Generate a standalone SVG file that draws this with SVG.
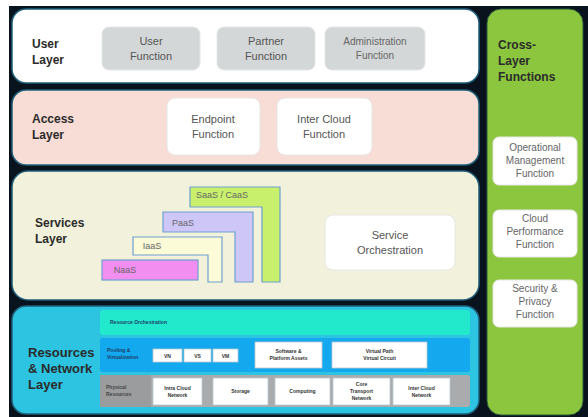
<svg xmlns="http://www.w3.org/2000/svg" width="588" height="417" viewBox="0 0 588 417">
<style>
.lt{font-family:"Liberation Sans",Arial,sans-serif;font-weight:bold;font-size:12px;fill:#2b2b2b}
.ft{font-family:"Liberation Sans",Arial,sans-serif;font-size:11px;fill:#555;text-anchor:middle}
.st{font-family:"Liberation Sans",Arial,sans-serif;font-size:10px;fill:#666;text-anchor:middle}
.tt{font-family:"Liberation Sans",Arial,sans-serif;font-size:5px;font-weight:bold;fill:#333;text-anchor:middle}
.tl{font-family:"Liberation Sans",Arial,sans-serif;font-size:5px;font-weight:bold;fill:#1c3f6a}
.gbox{fill:#d4d7d7;stroke:#e4e6e6;stroke-width:1}
.wbox{fill:#fff;stroke:#e6e6e6;stroke-width:1}
.layer{stroke:#1f5f7a;stroke-width:1.5}
.sv{stroke:#6f9fd0;stroke-width:1.2}
.rw{fill:#fff;stroke:#b8c8d0;stroke-width:0.8}
</style>
<rect x="0" y="0" width="588" height="417" fill="#ffffff"/>
<rect x="9" y="6" width="579" height="411" fill="#08131e"/>

<g id="user-layer">
<rect class="layer" x="12" y="9" width="467" height="74" rx="14" fill="#ffffff"/>
<text class="lt" x="32" y="48">User</text>
<text class="lt" x="32" y="64">Layer</text>
</g>
<g id="user-function">
<rect class="gbox" x="102" y="27" width="98" height="43" rx="7"/>
<text class="ft" x="151" y="45">User</text>
<text class="ft" x="151" y="60">Function</text>
</g>
<g id="partner-function">
<rect class="gbox" x="217" y="27" width="98" height="43" rx="7"/>
<text class="ft" x="266" y="45">Partner</text>
<text class="ft" x="266" y="60">Function</text>
</g>
<g id="administration-function">
<rect class="gbox" x="325" y="27" width="100" height="43" rx="7"/>
<text class="st" x="375" y="45">Administration</text>
<text class="st" x="375" y="59">Function</text>
</g>

<g id="access-layer">
<rect class="layer" x="12" y="90" width="467" height="75" rx="14" fill="#f8dcd6"/>
<text class="lt" x="32" y="123">Access</text>
<text class="lt" x="32" y="139">Layer</text>
</g>
<g id="endpoint-function">
<rect class="wbox" x="167" y="98" width="93" height="57" rx="8"/>
<text class="ft" x="213" y="123">Endpoint</text>
<text class="ft" x="213" y="138">Function</text>
</g>
<g id="inter-cloud-function">
<rect class="wbox" x="277" y="98" width="95" height="57" rx="8"/>
<text class="ft" x="324" y="123">Inter Cloud</text>
<text class="ft" x="324" y="138">Function</text>
</g>

<g id="services-layer">
<rect class="layer" x="12" y="171" width="467" height="129" rx="16" fill="#f2f2dc"/>
<text class="lt" x="35" y="227">Services</text>
<text class="lt" x="35" y="243">Layer</text>
</g>
<g id="saas">
<path class="sv" d="M190 187H280V282H262V207H190Z" fill="#c8f06c"/>
<text class="st" x="222" y="198" style="font-size:9px">SaaS / CaaS</text>
</g>
<g id="paas">
<path class="sv" d="M163 212H253V282H235V232H163Z" fill="#cdc6f6"/>
<text class="st" x="183" y="226" style="font-size:9px">PaaS</text>
</g>
<g id="iaas">
<path class="sv" d="M133 237H222V282H208V255H133Z" fill="#fbfbd8"/>
<text class="st" x="152" y="249" style="font-size:9px">IaaS</text>
</g>
<g id="naas">
<rect class="sv" x="102" y="260" width="96" height="20" fill="#f28ef0"/>
<text class="st" x="125" y="273" style="font-size:9px">NaaS</text>
</g>
<g id="service-orchestration">
<rect class="wbox" x="325" y="215" width="130" height="55" rx="8"/>
<text class="ft" x="390" y="239">Service</text>
<text class="ft" x="390" y="254">Orchestration</text>
</g>

<g id="resources-layer">
<rect class="layer" x="12" y="306" width="467" height="108" rx="14" fill="#2cc4e0"/>
<text class="lt" x="28" y="357" style="font-size:13px">Resources</text>
<text class="lt" x="28" y="373" style="font-size:13px">&amp; Network</text>
<text class="lt" x="28" y="389" style="font-size:13px">Layer</text>
</g>
<g id="resource-orchestration">
<rect x="100" y="310" width="370" height="25" rx="3" fill="#22e8cc"/>
<text class="tl" x="110" y="324">Resource Orchestration</text>
</g>
<g id="pooling-virtualization">
<rect x="100" y="338" width="370" height="34" rx="3" fill="#14a8ee"/>
<text class="tl" x="107" y="352">Pooling &amp;</text>
<text class="tl" x="107" y="359">Virtualization</text>
</g>
<g id="vn"><rect class="rw" x="153" y="349" width="29" height="13"/><text class="tt" x="167.5" y="357.5">VN</text></g>
<g id="vs"><rect class="rw" x="184" y="349" width="27" height="13"/><text class="tt" x="197.5" y="357.5">VS</text></g>
<g id="vm"><rect class="rw" x="213" y="349" width="25" height="13"/><text class="tt" x="225.5" y="357.5">VM</text></g>
<g id="software-platform-assets"><rect class="rw" x="255" y="342" width="67" height="26"/><text class="tt" x="288.5" y="353">Software &amp;</text><text class="tt" x="288.5" y="360">Platform Assets</text></g>
<g id="virtual-path"><rect class="rw" x="332" y="342" width="95" height="26"/><text class="tt" x="379.5" y="353">Virtual Path</text><text class="tt" x="379.5" y="360">Virtual Circuit</text></g>
<g id="physical-resources">
<rect x="100" y="375" width="370" height="32" rx="2" fill="#a9abad"/>
<rect x="100" y="375" width="51" height="32" fill="#9a9c9e"/>
<text class="tl" x="106" y="389" style="fill:#444">Physical</text>
<text class="tl" x="106" y="396" style="fill:#444">Resources</text>
</g>
<g id="intra-cloud-network"><rect class="rw" x="153" y="378" width="49" height="27"/><text class="tt" x="177.5" y="390">Intra Cloud</text><text class="tt" x="177.5" y="397">Network</text></g>
<g id="storage"><rect class="rw" x="213" y="378" width="55" height="27"/><text class="tt" x="240.5" y="393">Storage</text></g>
<g id="computing"><rect class="rw" x="275" y="378" width="55" height="27"/><text class="tt" x="302.5" y="393">Computing</text></g>
<g id="core-transport-network"><rect class="rw" x="333" y="378" width="57" height="27"/><text class="tt" x="361.5" y="386">Core</text><text class="tt" x="361.5" y="393">Transport</text><text class="tt" x="361.5" y="400">Network</text></g>
<g id="inter-cloud-network"><rect class="rw" x="393" y="378" width="57" height="27"/><text class="tt" x="421.5" y="390">Inter Cloud</text><text class="tt" x="421.5" y="397">Network</text></g>

<g id="cross-layer">
<rect x="487" y="9" width="96" height="406" rx="14" fill="#8cc63e" stroke="#2a5a3a" stroke-width="1"/>
<text class="lt" x="498" y="49">Cross-</text>
<text class="lt" x="498" y="65">Layer</text>
<text class="lt" x="498" y="81">Functions</text>
</g>
<g id="operational-management">
<rect class="wbox" x="493" y="137" width="84" height="48" rx="6"/>
<text class="st" x="535" y="151">Operational</text>
<text class="st" x="535" y="164">Management</text>
<text class="st" x="535" y="177">Function</text>
</g>
<g id="cloud-performance">
<rect class="wbox" x="493" y="210" width="84" height="47" rx="6"/>
<text class="st" x="535" y="222">Cloud</text>
<text class="st" x="535" y="235">Performance</text>
<text class="st" x="535" y="248">Function</text>
</g>
<g id="security-privacy">
<rect class="wbox" x="493" y="280" width="84" height="47" rx="6"/>
<text class="st" x="535" y="292">Security &amp;</text>
<text class="st" x="535" y="305">Privacy</text>
<text class="st" x="535" y="318">Function</text>
</g>
<g id="connectors"/>
</svg>
